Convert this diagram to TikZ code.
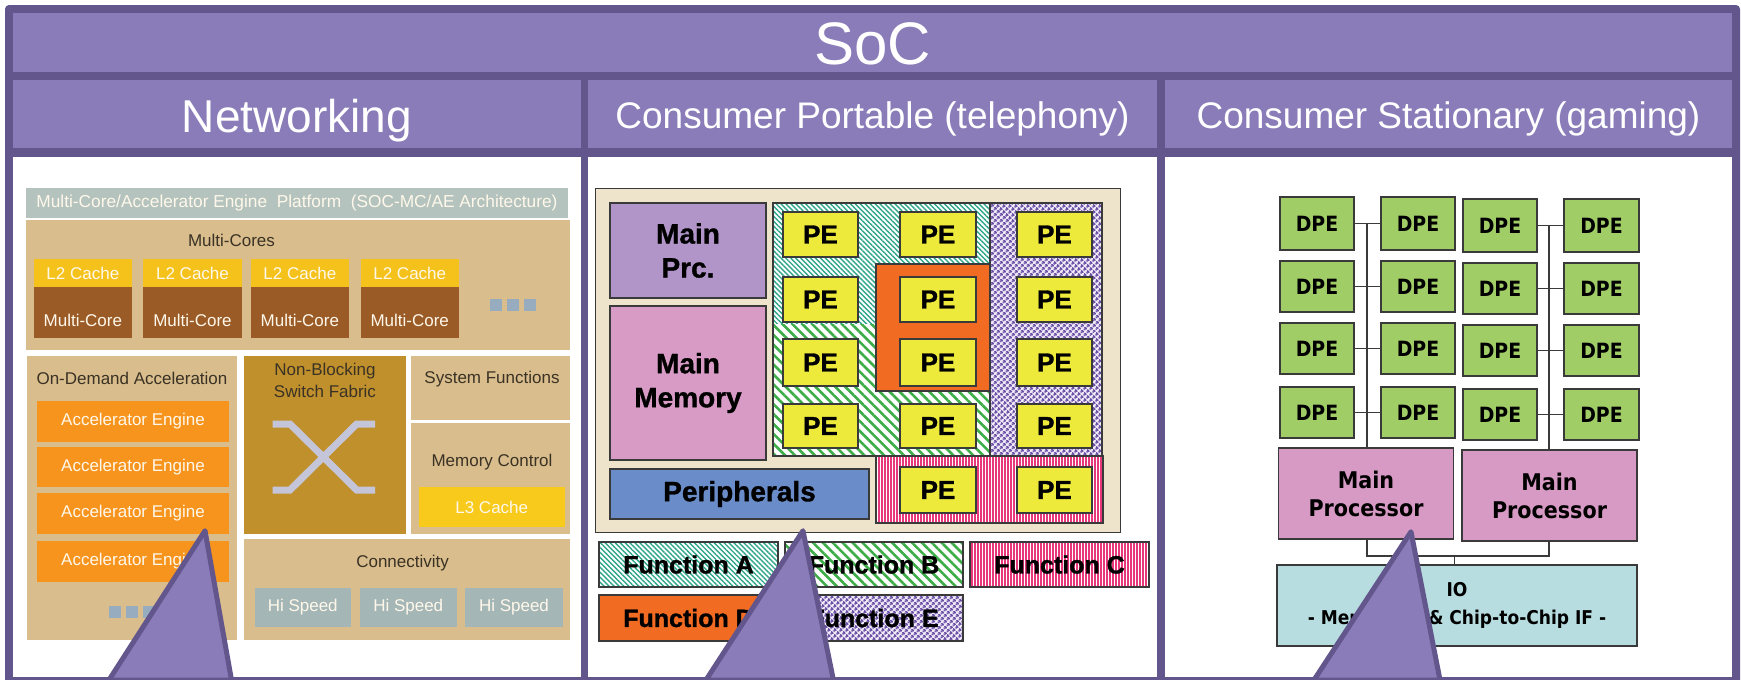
\documentclass[tikz,border=0pt]{standalone}
\usepackage{fontspec}
\setmainfont{Liberation Sans}
\newfontfamily\dvfont[FakeStretch=0.9]{DejaVu Sans}
\newfontfamily\heavyfont[FakeBold=1.2]{Liberation Sans}
\usetikzlibrary{patterns.meta}

\definecolor{frameDark}{HTML}{63568C}
\definecolor{frameLight}{HTML}{8A7CB9}
\definecolor{tanBg}{HTML}{D9BD8D}
\definecolor{barGray}{HTML}{B4C3BE}
\definecolor{cacheYel}{HTML}{F5C21C}
\definecolor{coreBrown}{HTML}{9A5B27}
\definecolor{engOrange}{HTML}{F7941E}
\definecolor{fabricGold}{HTML}{C0902D}
\definecolor{lthreeYel}{HTML}{F8CA1C}
\definecolor{speedGray}{HTML}{A4B6B6}
\definecolor{moreDots}{HTML}{97ADBF}
\definecolor{crossGray}{HTML}{C4C5D8}
\definecolor{lblDark}{HTML}{3A3224}
\definecolor{lblLight}{HTML}{FFF8EA}
\definecolor{beigeBg}{HTML}{EEE4CB}
\definecolor{prcPurple}{HTML}{B195C8}
\definecolor{memPink}{HTML}{D89BC5}
\definecolor{perBlue}{HTML}{6A8DCA}
\definecolor{fnTeal}{HTML}{2FA68A}
\definecolor{fnGreen}{HTML}{3DAD48}
\definecolor{fnRed}{HTML}{E8387C}
\definecolor{fnOrange}{HTML}{F26B22}
\definecolor{fnViolet}{HTML}{6B4EA6}
\definecolor{fnVioletBg}{HTML}{F1EDF8}
\definecolor{peYellow}{HTML}{EEEA3B}
\definecolor{edge}{HTML}{3A3A3A}
\definecolor{dpeGreen}{HTML}{A1CD66}
\definecolor{mpPink}{HTML}{D79AC4}
\definecolor{ioCyan}{HTML}{B7DDE0}

\newcommand\fsz[2]{\fontsize{#1}{#2}\selectfont}
% rectangle node given by its corners: name, style, x1, y1, x2, y2, text
\newcommand\rbox[7]{\node[blk,#2,minimum width={(#5-#3)*1pt},minimum height={(#6-#4)*1pt}] (#1) at ({(#3+#5)/2},{(#4+#6)/2}) {#7};}

\begin{document}
\begin{tikzpicture}[x=1pt,y=-1pt,
  blk/.style={inner sep=0pt,outer sep=0pt,align=center},
  cell/.style={fill=frameLight},
  panel/.style={fill=white},
  hdrtext/.style={blk,text=white,anchor=base},
  tanbox/.style={fill=tanBg},
  dlbl/.style={blk,text=lblDark,font=\fsz{17}{20}},
  wlbl/.style={text=lblLight,font=\fsz{17}{20}},
  pebox/.style={fill=peYellow,draw=edge,line width=1.5pt,font=\heavyfont\bfseries\fsz{26}{28}},
  bigblk/.style={draw=edge,line width=1.5pt,font=\heavyfont\bfseries\fsz{28}{34}},
  fnbox/.style={draw=edge,line width=1.2pt,font=\heavyfont\bfseries\fsz{25}{28}},
  dpebox/.style={fill=dpeGreen,draw=edge,line width=1.4pt,font=\dvfont\bfseries\fsz{21}{24}},
  mpbox/.style={fill=mpPink,draw=edge,line width=1.4pt,font=\dvfont\bfseries\fsz{23}{28}},
  wire/.style={draw=edge,line width=1.6pt},
  callout/.style={fill=frameLight,draw=frameDark,line width=5pt,line join=round},
  crossbar/.style={draw=crossGray,line width=7pt},
  hatchA/.style={preaction={fill=white},pattern={Lines[angle=-45,distance=3.5pt,line width=1.4pt]},pattern color=fnTeal},
  hatchB/.style={preaction={fill=white},pattern={Lines[angle=-45,distance=7pt,line width=2.6pt]},pattern color=fnGreen},
  stripeC/.style={preaction={fill=white},pattern={Lines[angle=90,distance=3pt,line width=1.3pt]},pattern color=fnRed},
  dotsE/.style={preaction={fill=fnVioletBg},pattern={Dots[distance=4pt,radius=1.7pt,angle=45]},pattern color=fnViolet},
]
\useasboundingbox (0,0) rectangle (1741,680);

% ---- frame and headers ----
\fill[frameDark,rounded corners=4pt] (5,5) rectangle (1740,700);
\rbox{socbar}{cell}{13}{13}{1732}{72}{}
\rbox{netcell}{cell}{13}{80}{581}{148}{}
\rbox{portcell}{cell}{588}{80}{1157}{148}{}
\rbox{statcell}{cell}{1165}{80}{1732}{148}{}
\rbox{netpanel}{panel}{13}{157}{581}{677}{}
\rbox{portpanel}{panel}{588}{157}{1157}{677}{}
\rbox{statpanel}{panel}{1165}{157}{1732}{677}{}

\node[hdrtext,font=\fsz{60}{60}] (soc) at (872.5,64) {SoC};
\node[hdrtext,font=\fsz{46}{46}] (networking) at (297,132) {Networking};
\node[hdrtext,font=\fsz{37}{37}] (portable) at (872.5,128.5) {Consumer Portable (telephony)};
\node[hdrtext,font=\fsz{37}{37}] (stationary) at (1448.5,128.5) {Consumer Stationary (gaming)};

% ---- networking: multi-core / accelerator engine platform ----
\rbox{platbar}{fill=barGray,text=lblLight,font=\fsz{17.3}{20}}{26}{188}{568}{218}{Multi-Core/Accelerator Engine\ \ Platform\ \ (SOC-MC/AE Architecture)}
\rbox{mcarea}{tanbox}{26}{220}{570}{350}{}
\node[dlbl] (mclabel) at (231.5,240) {Multi-Cores};
\foreach \i/\xa/\xb in {1/33.7/132,2/143/242,3/250.7/349,4/360.5/459}{
  \rbox{ltwo\i}{fill=cacheYel,wlbl}{\xa}{259}{\xb}{287}{L2 Cache}
  \rbox{core\i}{fill=coreBrown}{\xa}{287}{\xb}{338}{}
  \node[blk,wlbl] (coretxt\i) at ({(\xa+\xb)/2},320) {Multi-Core};
}
\foreach \i/\xa in {1/490,2/507,3/524}{
  \rbox{mcdot\i}{fill=moreDots}{\xa}{299}{\xa+12}{311}{}
}

\rbox{ondemand}{tanbox}{26.8}{356}{237}{640}{}
\node[dlbl] (odlabel) at (132,378) {On-Demand Acceleration};
\foreach \i/\ya/\yb in {1/401/442,2/447/487,3/493/534,4/541/582}{
  \rbox{accel\i}{fill=engOrange,wlbl}{37}{\ya}{229}{\yb}{Accelerator Engine}
}
\foreach \i/\xa in {1/109,2/126,3/143}{
  \rbox{oddot\i}{fill=moreDots}{\xa}{606}{\xa+12}{618}{}
}

\rbox{fabric}{fill=fabricGold}{244}{356}{406}{534}{}
\node[dlbl,font=\fsz{17}{22}] (fabriclbl) at (325,380) {Non-Blocking\\Switch Fabric};
\draw[crossbar] (272.7,424) -- (290,424) -- (356.7,490) -- (375,490);
\draw[crossbar] (375,424) -- (356.7,424) -- (290,490) -- (272.7,490);

\rbox{sysfn}{tanbox}{411}{356}{570}{420}{}
\node[dlbl] (sysfnlbl) at (492,379) {System Functions};
\rbox{memctl}{tanbox}{411}{423}{570}{534}{}
\node[dlbl] (memctllbl) at (492,462) {Memory Control};
\rbox{lthree}{fill=lthreeYel,wlbl}{419}{487}{564.5}{527}{L3 Cache}

\rbox{connect}{tanbox}{244}{539}{570}{640}{}
\node[dlbl] (connectlbl) at (402.6,563) {Connectivity};
\foreach \i/\xa/\xb in {1/254.5/351,2/360/456.5,3/465/563}{
  \rbox{hispeed\i}{fill=speedGray,wlbl}{\xa}{588}{\xb}{627}{Hi Speed}
}

% ---- consumer portable: function partitioning ----
\rbox{chip}{fill=beigeBg,draw=edge,line width=1pt}{595}{188}{1120}{532}{}
\rbox{mainprc}{bigblk,fill=prcPurple}{610}{203}{766}{298}{Main\\Prc.}
\rbox{mainmem}{bigblk,fill=memPink}{610}{306}{766}{460}{Main\\Memory}
\rbox{periph}{bigblk,fill=perBlue}{610}{469}{869}{519}{Peripherals}

\rbox{regA}{hatchA}{773}{203}{990}{324}{}
\rbox{regB}{hatchB}{773}{324}{990}{456}{}
\rbox{regAB}{draw=edge,line width=1.2pt}{773}{203}{990}{456}{}
\rbox{regD}{fill=fnOrange,draw=edge,line width=1.2pt}{876}{264}{990}{391}{}
\rbox{regE}{dotsE,draw=edge,line width=1.2pt}{990}{203}{1102}{456}{}
\rbox{regC}{stripeC,draw=edge,line width=1.2pt}{876}{456}{1103}{523}{}

\foreach \r/\ya/\yb in {1/212/257,2/277/322,3/339/386,4/404/448}{
  \foreach \c/\xa/\xb in {1/783/858,2/900/976,3/1017/1092}{
    \rbox{pe\r\c}{pebox}{\xa}{\ya}{\xb}{\yb}{PE}
  }
}
\rbox{pe52}{pebox}{900}{467}{976}{513}{PE}
\rbox{pe53}{pebox}{1017}{467}{1092}{513}{PE}

\rbox{fnA}{fnbox,hatchA}{599}{542}{778}{587}{Function A}
\rbox{fnB}{fnbox,hatchB}{785}{542}{963}{587}{Function B}
\rbox{fnC}{fnbox,stripeC}{970}{542}{1149}{587}{Function C}
\rbox{fnD}{fnbox,fill=fnOrange}{599}{595}{778}{641}{Function D}
\rbox{fnE}{fnbox,dotsE}{785}{595}{963}{641}{Function E}

% ---- consumer stationary: DPE array ----
\foreach \r/\ya/\yb/\yc/\yd in {1/197/250/199/252,2/261/312/263/314,3/323/374/325/376,4/387/438/389/440}{
  \rbox{dpe\r1}{dpebox}{1280}{\ya}{1354}{\yb}{DPE}
  \rbox{dpe\r2}{dpebox}{1381}{\ya}{1455}{\yb}{DPE}
  \rbox{dpe\r3}{dpebox}{1463}{\yc}{1537}{\yd}{DPE}
  \rbox{dpe\r4}{dpebox}{1564}{\yc}{1639}{\yd}{DPE}
  \draw[wire] (dpe\r1.east) -- (dpe\r2.west);
  \draw[wire] (dpe\r3.east) -- (dpe\r4.west);
}
\rbox{mp1}{mpbox}{1278.5}{448}{1453.5}{539}{Main\\Processor}
\rbox{mp2}{mpbox}{1462}{450}{1637}{541}{Main\\Processor}
\rbox{io}{fill=ioCyan,draw=edge,line width=1.4pt,font=\dvfont\bfseries\fsz{19}{28}}{1277}{565}{1637}{646}{IO\\- Memory IF \& Chip-to-Chip IF -}

\coordinate (busL) at (1367,0);
\coordinate (busR) at (1549,0);
\coordinate (join) at (1454.5,556);
\draw[wire] (dpe11.east -| busL) -- (mp1.north -| busL);
\draw[wire] (dpe13.east -| busR) -- (mp2.north -| busR);
\draw[wire] (mp1.south -| busL) |- (join) -| (mp2.south -| busR);
\draw[wire] (join) -- (io.north -| join);

% ---- callout pointers ----
\draw[callout] (205,530.7) -- (109,680) -- (231.5,680) -- cycle;
\draw[callout] (803,530.7) -- (706,680) -- (833.4,680) -- cycle;
\draw[callout] (1411,531.7) -- (1314,680) -- (1440,680) -- cycle;
\end{tikzpicture}
\end{document}
